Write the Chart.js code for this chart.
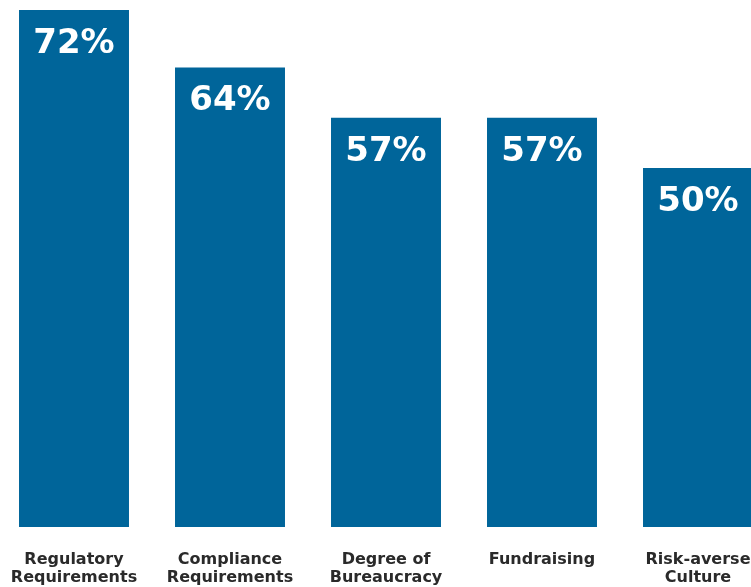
<!DOCTYPE html>
<html>
<head>
<meta charset="utf-8">
<script src="https://cdn.jsdelivr.net/npm/chart.js@4/dist/chart.umd.min.js"></script>
<style>
  html, body { margin: 0; padding: 0; background: #ffffff; overflow: hidden; }
  #wrap { position: absolute; left: -4px; top: 0; width: 780px; height: 587px; }
</style>
</head>
<body>
<div id="wrap"><canvas id="chart" width="780" height="587"></canvas></div>
<script>
// Obstacles reported, share of respondents (%)
const categories = [
  ['Regulatory', 'Requirements'],
  ['Compliance', 'Requirements'],
  ['Degree of', 'Bureaucracy'],
  'Fundraising',
  ['Risk-averse', 'Culture']
];
const shares = [72, 64, 57, 57, 50];

const barColor = '#00659a';

// White percentage labels written just inside the top of each bar
const valueLabels = {
  id: 'valueLabels',
  afterDatasetsDraw(chart) {
    const ctx = chart.ctx;
    const meta = chart.getDatasetMeta(0);
    ctx.save();
    ctx.fillStyle = '#ffffff';
    ctx.font = 'bold 34px "DejaVu Sans", Verdana, sans-serif';
    ctx.textAlign = 'center';
    ctx.textBaseline = 'alphabetic';
    meta.data.forEach((bar, i) => {
      ctx.fillText(shares[i] + '%', bar.x, bar.y + 43);
    });
    ctx.restore();
  }
};

new Chart(document.getElementById('chart'), {
  type: 'bar',
  data: {
    labels: categories,
    datasets: [{
      data: shares,
      backgroundColor: barColor,
      borderWidth: 0,
      barPercentage: 0.705,
      categoryPercentage: 1.0
    }]
  },
  options: {
    responsive: false,
    animation: false,
    layout: { padding: { top: 10, left: 0, right: 0, bottom: 0 } },
    plugins: {
      legend: { display: false },
      tooltip: { enabled: false }
    },
    scales: {
      x: {
        grid: { display: false, drawTicks: false },
        border: { display: false },
        ticks: {
          color: '#2a2a2a',
          font: { family: '"DejaVu Sans", Verdana, sans-serif', size: 16, weight: 'bold', lineHeight: '18px' },
          padding: 24,
          maxRotation: 0,
          autoSkip: false
        },
        afterFit(scale) {
          // fixed axis band; let the outer labels run past the plot edges
          scale.height = 60;
          scale.paddingLeft = 0;
          scale.paddingRight = 0;
        }
      },
      y: {
        display: false,
        min: 0,
        max: 72
      }
    }
  },
  plugins: [valueLabels]
});
</script>
</body>
</html>
